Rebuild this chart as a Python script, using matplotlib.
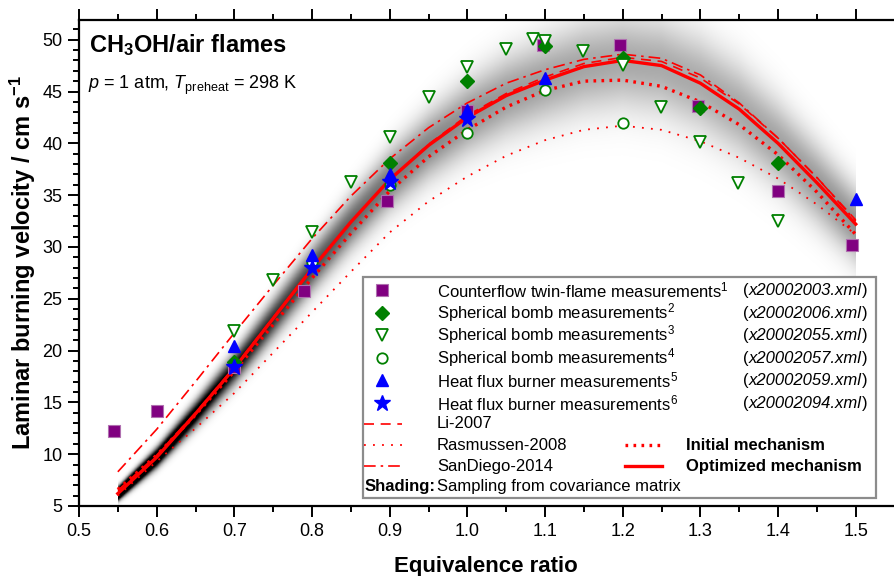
import numpy as np
import matplotlib
matplotlib.use("Agg")
import matplotlib.pyplot as plt
from matplotlib.lines import Line2D
from matplotlib.patches import Rectangle

plt.rcParams['font.family'] = ['Liberation Sans', 'DejaVu Sans']
plt.rcParams['mathtext.fontset'] = 'custom'
plt.rcParams['mathtext.rm'] = 'Liberation Sans'
plt.rcParams['mathtext.it'] = 'Liberation Sans:italic'
plt.rcParams['mathtext.bf'] = 'Liberation Sans:bold'

# ---------------- data ----------------
phi_curve = [0.55, 0.60, 0.65, 0.70, 0.75, 0.80, 0.85, 0.90, 0.95, 1.00,
             1.05, 1.10, 1.15, 1.20, 1.25, 1.30, 1.35, 1.40, 1.45, 1.50]
optimized = [6.2, 9.7, 13.9, 18.3, 23.1, 27.9, 32.4, 36.5, 39.8, 42.5,
             44.6, 46.1, 47.4, 48.0, 47.5, 45.8, 43.3, 40.0, 36.2, 32.2]
initial = [6.6, 9.9, 13.8, 18.0, 22.5, 27.0, 31.3, 35.4, 38.7, 41.3,
           43.5, 45.1, 46.0, 46.1, 45.5, 44.0, 41.8, 38.9, 35.3, 31.2]
li2007 = [6.5, 9.9, 14.0, 18.4, 23.2, 27.9, 32.4, 36.5, 39.9, 42.7,
          44.8, 46.4, 47.7, 48.3, 47.9, 46.3, 43.8, 40.5, 36.7, 32.6]
rasmussen2008 = [6.0, 9.3, 12.5, 15.9, 19.8, 23.7, 27.6, 31.4, 34.4, 36.8,
                 38.8, 40.3, 41.3, 41.7, 41.3, 40.2, 38.6, 36.6, 34.1, 31.2]
sandiego2014 = [8.3, 12.4, 17.0, 21.7, 26.3, 30.8, 34.9, 38.5, 41.5, 43.9,
                45.8, 47.1, 48.1, 48.6, 48.2, 46.6, 43.9, 40.5, 36.7, 32.5]
band_halfwidth = [0.7, 1.1, 1.5, 1.9, 2.3, 2.7, 3.1, 3.5, 3.9, 4.3,
                  4.7, 5.0, 5.3, 5.5, 5.6, 5.6, 5.4, 5.1, 4.7, 4.3]

cf_phi = [0.545, 0.60, 0.70, 0.79, 0.897, 1.00, 1.097, 1.196, 1.297, 1.40, 1.495]
cf_su = [12.2, 14.2, 18.4, 25.7, 34.4, 43.1, 49.5, 49.5, 43.6, 35.4, 30.2]

sb2_phi = [0.70, 0.90, 1.00, 1.10, 1.20, 1.30, 1.40]
sb2_su = [18.9, 38.1, 46.0, 49.4, 48.2, 43.4, 38.1]

sb3_phi = [0.70, 0.75, 0.80, 0.85, 0.90, 0.95, 1.00, 1.05, 1.084, 1.10,
           1.149, 1.20, 1.249, 1.30, 1.349, 1.40]
sb3_su = [21.9, 26.8, 31.4, 36.3, 40.6, 44.5, 47.4, 49.1, 50.1, 49.9,
          48.9, 47.6, 43.5, 40.1, 36.2, 32.5]

sb4_phi = [0.80, 0.90, 1.00, 1.10, 1.20]
sb4_su = [28.5, 36.0, 41.0, 45.1, 42.0]

hf5_phi = [0.70, 0.80, 0.90, 1.00, 1.10, 1.50]
hf5_su = [20.4, 29.2, 37.0, 43.2, 46.3, 34.6]

hf6_phi = [0.70, 0.80, 0.90, 1.00]
hf6_su = [18.4, 28.0, 36.3, 42.3]

x_ticks = [0.5, 0.6, 0.7, 0.8, 0.9, 1.0, 1.1, 1.2, 1.3, 1.4, 1.5]
y_ticks = [5, 10, 15, 20, 25, 30, 35, 40, 45, 50]

exp_labels = ["Counterflow twin-flame measurements$^1$",
              "Spherical bomb measurements$^2$",
              "Spherical bomb measurements$^3$",
              "Spherical bomb measurements$^4$",
              "Heat flux burner measurements$^5$",
              "Heat flux burner measurements$^6$"]
exp_files = ["x20002003.xml", "x20002006.xml", "x20002055.xml",
             "x20002057.xml", "x20002059.xml", "x20002094.xml"]

# ---------------- figure ----------------
W, H = 894, 576
fig = plt.figure(figsize=(W / 100, H / 100), dpi=100)
L, R, B, T = 79, 893, 506, 20
ax = fig.add_axes([L / W, 1 - B / H, (R - L) / W, (B - T) / H])
ax.set_xlim(0.5, 1.548)
ax.set_ylim(5, 51.9)

# shading (sampling from covariance matrix)
xs = np.linspace(phi_curve[0], phi_curve[-1], 500)
ys = np.linspace(5, 52, 600)
cen = np.interp(xs, phi_curve, optimized)
sig = np.interp(xs, phi_curve, band_halfwidth) / 1.8
X, Y = np.meshgrid(xs, ys)
dens = 1.05 * np.exp(-0.5 * ((Y - cen[None, :]) / sig[None, :]) ** 2) / sig[None, :]
dens = np.clip(dens, 0, 1)
rgba = np.zeros(dens.shape + (4,))
rgba[..., 3] = dens
ax.imshow(rgba, extent=[xs[0], xs[-1], ys[0], ys[-1]], origin='lower',
          aspect='auto', interpolation='bilinear', zorder=1)

red = '#ff0000'
ax.plot(phi_curve, rasmussen2008, color=red, lw=1.3, ls=(0, (1, 4)), zorder=3)
ax.plot(phi_curve, li2007, color=red, lw=1.2, ls=(0, (6, 4)), zorder=3)
ax.plot(phi_curve, sandiego2014, color=red, lw=1.2, ls=(0, (7, 3, 1.5, 3)), zorder=3)
ax.plot(phi_curve, initial, color=red, lw=2.4, ls=(0, (0.8, 1.6)), zorder=3)
ax.plot(phi_curve, optimized, color=red, lw=2.4, ls='-', zorder=3)

purple, green, blue = '#800080', '#008000', '#0000ff'
ms = dict(ls='none', zorder=5)
ax.plot(cf_phi, cf_su, marker='s', ms=9, mfc=purple, mec='#b070b0', mew=0.8, **ms)
ax.plot(sb2_phi, sb2_su, marker='D', ms=7.5, mfc=green, mec=green, **ms)
ax.plot(sb3_phi, sb3_su, marker='v', ms=9, mfc='white', mec=green, mew=1.3, **ms)
ax.plot(sb4_phi, sb4_su, marker='o', ms=7.5, mfc='white', mec=green, mew=1.3, **ms)
ax.plot(hf5_phi, hf5_su, marker='^', ms=9, mfc=blue, mec=blue, **ms)
ax.plot(hf6_phi, hf6_su, marker='*', ms=12, mfc=blue, mec=blue, **ms)

# axes styling
ax.set_xticks(x_ticks)
ax.set_xticklabels([f"{v:.1f}" for v in x_ticks])
ax.set_yticks(y_ticks)
ax.set_xticks(np.arange(0.55, 1.55, 0.1), minor=True)
ax.set_yticks(np.arange(5, 52, 1), minor=True)
for s in ['left', 'bottom', 'top']:
    ax.spines[s].set_linewidth(1.6)
ax.spines['right'].set_visible(False)
ax.tick_params(which='both', direction='out', top=True, right=False,
               labeltop=False, width=1.4, labelsize=13, pad=4)
ax.tick_params(which='major', length=8)
ax.tick_params(which='minor', length=4)
ax.set_xlabel('Equivalence ratio', fontsize=16, fontweight='bold', labelpad=12)
ax.set_ylabel('Laminar burning velocity / cm s$^{\\mathbf{-1}}$', fontsize=17,
              fontweight='bold', labelpad=3)

def ax_pt(px, py):
    return ((px - L) / (R - L), (B - py) / (B - T))

ax.text(*ax_pt(89, 52), 'CH$_\\mathbf{3}$OH/air flames', transform=ax.transAxes,
        fontsize=17, fontweight='bold', va='baseline', ha='left')
ax.text(*ax_pt(88, 89), '$p$ = 1 atm, $T_\\mathrm{preheat}$ = 298 K',
        transform=ax.transAxes, fontsize=13, va='baseline', ha='left')

# ---------------- legend ----------------
bx0, by0 = ax_pt(363, 498)
bx1, by1 = ax_pt(876, 277)
ax.add_patch(Rectangle((bx0, by0), bx1 - bx0, by1 - by0, transform=ax.transAxes,
                       facecolor='white', edgecolor='#8c8c8c', lw=1.6, zorder=8))
row_y = [290, 313, 335, 358, 380, 403, 424, 445, 466, 487]
base_off = 5  # baseline offset (px) below row centre
fs = 12
styles = [dict(marker='s', ms=9, mfc=purple, mec='#b070b0', mew=0.8),
          dict(marker='D', ms=7.5, mfc=green, mec=green),
          dict(marker='v', ms=9, mfc='white', mec=green, mew=1.3),
          dict(marker='o', ms=7.5, mfc='white', mec=green, mew=1.3),
          dict(marker='^', ms=9, mfc=blue, mec=blue),
          dict(marker='*', ms=12, mfc=blue, mec=blue)]
for i in range(6):
    mx, my = ax_pt(382, row_y[i])
    ax.add_line(Line2D([mx], [my], transform=ax.transAxes, ls='none', zorder=9, **styles[i]))
    tx, ty = ax_pt(437, row_y[i])
    ax.text(tx, ty, exp_labels[i], transform=ax.transAxes, fontsize=fs,
            va='center', ha='left', zorder=9)
    fx, fy = ax_pt(743, row_y[i] + base_off)
    t1 = ax.text(fx, fy, '(', transform=ax.transAxes, fontsize=fs,
                 va='baseline', ha='left', zorder=9)
    t2 = ax.annotate(exp_files[i], xy=(1, fy), xycoords=(t1, 'axes fraction'),
                     fontsize=fs, style='italic', va='baseline', ha='left', zorder=9)
    ax.annotate(')', xy=(1, fy), xycoords=(t2, 'axes fraction'),
                fontsize=fs, va='baseline', ha='left', zorder=9)

line_styles = [dict(lw=1.2, ls=(0, (6, 4))),
               dict(lw=1.3, ls=(0, (1, 4))),
               dict(lw=1.2, ls=(0, (7, 3, 1.5, 3)))]
line_labels = ['Li-2007', 'Rasmussen-2008', 'SanDiego-2014']
for j in range(3):
    yy = row_y[6 + j]
    x0, y0 = ax_pt(364, yy)
    x1, _ = ax_pt(402, yy)
    ax.add_line(Line2D([x0, x1], [y0, y0], transform=ax.transAxes, color=red,
                       zorder=9, **line_styles[j]))
    tx, ty = ax_pt(437, yy)
    ax.text(tx, ty, line_labels[j], transform=ax.transAxes, fontsize=fs,
            va='center', ha='left', zorder=9)

mech_styles = [dict(lw=2.4, ls=(0, (0.8, 1.6))), dict(lw=2.4, ls='-')]
mech_labels = ['Initial mechanism', 'Optimized mechanism']
for j in range(2):
    yy = row_y[7 + j]
    x0, y0 = ax_pt(625, yy)
    x1, _ = ax_pt(662, yy)
    ax.add_line(Line2D([x0, x1], [y0, y0], transform=ax.transAxes, color=red,
                       zorder=9, **mech_styles[j]))
    tx, ty = ax_pt(686, yy)
    ax.text(tx, ty, mech_labels[j], transform=ax.transAxes, fontsize=fs,
            fontweight='bold', va='center', ha='left', zorder=9)

tx, ty = ax_pt(365, row_y[9])
ax.text(tx, ty, 'Shading:', transform=ax.transAxes, fontsize=fs,
        fontweight='bold', va='center', ha='left', zorder=9)
tx, ty = ax_pt(437, row_y[9])
ax.text(tx, ty, 'Sampling from covariance matrix', transform=ax.transAxes,
        fontsize=fs, va='center', ha='left', zorder=9)

fig.savefig('out.png', dpi=100)
